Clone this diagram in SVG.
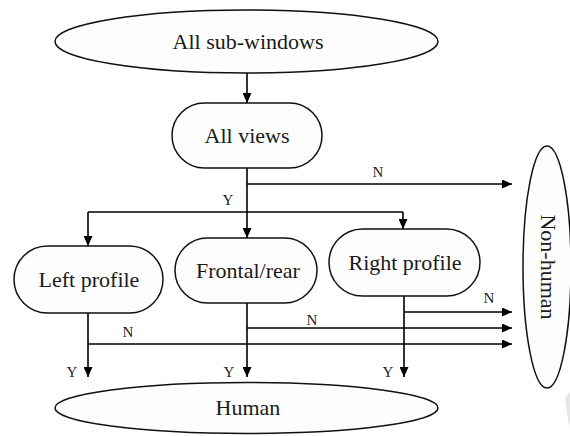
<svg xmlns="http://www.w3.org/2000/svg" width="570" height="436" viewBox="0 0 570 436">
  <defs>
    <marker id="arrow" markerUnits="userSpaceOnUse" markerWidth="10" markerHeight="9" refX="10" refY="4.5" orient="auto">
      <path d="M0,0 L10,4.5 L0,9 z" fill="#000"/>
    </marker>
    <style>
      .shape { fill: #fdfdfd; stroke: #111; stroke-width: 1.5; }
      .label { font-family: "Liberation Serif", "Times New Roman", serif; font-size: 22px; fill: #1a1a1a; text-anchor: middle; }
      .yn { font-family: "Liberation Serif", "Times New Roman", serif; font-size: 15px; fill: #1a1a1a; text-anchor: middle; }
      .wire { fill: none; stroke: #000; stroke-width: 1.6; }
      .arr { fill: none; stroke: #000; stroke-width: 1.6; marker-end: url(#arrow); }
    </style>
  </defs>

  <rect width="570" height="436" fill="#fff"/>

  <!-- connectors -->
  <g id="connectors">
    <line class="arr" x1="247" y1="73" x2="247" y2="103"/>
    <line class="arr" x1="247" y1="168" x2="247" y2="238"/>
    <line class="arr" x1="247" y1="184" x2="512" y2="184"/>
    <polyline class="wire" points="88,212 403,212"/>
    <line class="arr" x1="88" y1="212" x2="88" y2="246"/>
    <line class="arr" x1="403" y1="212" x2="403" y2="229"/>

    <line class="arr" x1="88" y1="313" x2="88" y2="377"/>
    <line class="arr" x1="247" y1="303" x2="247" y2="377"/>
    <line class="arr" x1="404" y1="296" x2="404" y2="377"/>

    <line class="arr" x1="404" y1="312" x2="512" y2="312"/>
    <line class="arr" x1="247" y1="328" x2="512" y2="328"/>
    <line class="arr" x1="88" y1="344" x2="512" y2="344"/>

    <text class="yn" x="378" y="177">N</text>
    <text class="yn" x="228" y="205">Y</text>
    <text class="yn" x="489" y="303">N</text>
    <text class="yn" x="312" y="325">N</text>
    <text class="yn" x="128" y="337">N</text>
    <text class="yn" x="72" y="377">Y</text>
    <text class="yn" x="229" y="377">Y</text>
    <text class="yn" x="388" y="377">Y</text>
  </g>

  <g id="all-sub-windows">
    <ellipse class="shape" cx="246.5" cy="41.5" rx="191.5" ry="31.5"/>
    <text class="label" x="248" y="49">All sub-windows</text>
  </g>

  <g id="all-views">
    <rect class="shape" x="172" y="103" width="150" height="65" rx="32.5"/>
    <text class="label" x="247" y="142.5">All views</text>
  </g>

  <g id="left-profile">
    <rect class="shape" x="14" y="246" width="149" height="67" rx="33.5"/>
    <text class="label" x="89" y="287">Left profile</text>
  </g>

  <g id="frontal-rear">
    <rect class="shape" x="175" y="238" width="142" height="65" rx="32.5"/>
    <text class="label" x="248" y="278">Frontal/rear</text>
  </g>

  <g id="right-profile">
    <rect class="shape" x="329" y="229" width="151" height="67" rx="33.5"/>
    <text class="label" x="405" y="269.5">Right profile</text>
  </g>

  <g id="non-human">
    <ellipse class="shape" cx="547" cy="267" rx="24" ry="121"/>
    <text class="label" transform="translate(548 267) rotate(90)" x="0" y="7">Non-human</text>
  </g>

  <g id="human">
    <ellipse class="shape" cx="246.5" cy="408" rx="191.5" ry="25.5"/>
    <text class="label" x="248" y="415">Human</text>
  </g>

  <!-- faint corner mark -->
  <polygon points="565,398 570,392 570,426 568,420" fill="#e6e6e6"/>
</svg>
